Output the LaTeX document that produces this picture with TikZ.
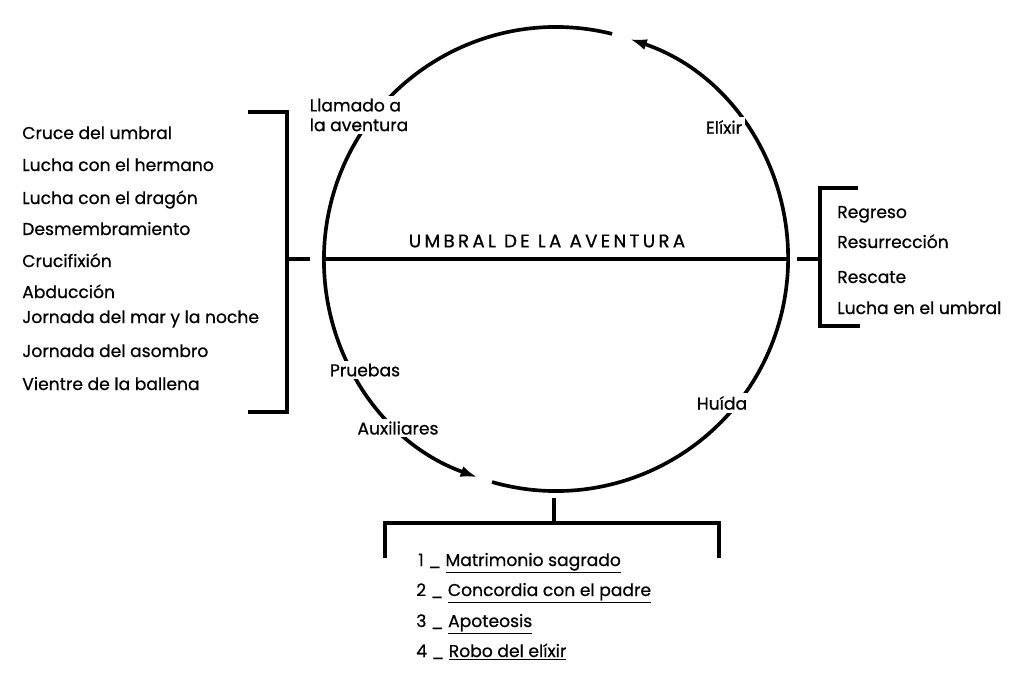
\documentclass[tikz,border=0pt]{standalone}
\usepackage{fontspec}
\setmainfont{Poppins}[UprightFeatures={FakeBold=0.7}]
\usetikzlibrary{positioning,arrows.meta}

\tikzset{
  trazo/.style={line width=2.6pt},
  flecha/.style={trazo,-{Latex[length=12pt,width=8pt]}},
  etiq/.style={fill=white,inner sep=2pt,align=left},
  lista/.style={anchor=base west,inner sep=0pt}
}

\begin{document}
\begin{tikzpicture}[x=0.025cm,y=-0.025cm,font=\fontsize{12.2}{14}\selectfont]
    \useasboundingbox (0,0) rectangle (1024,673);
    \def\R{232}
    \coordinate (O) at (556,259);
    % el circulo: dos arcos, cada uno con su flecha
    \draw [flecha] ([shift={(106:\R)}]O) arc [start angle=106,end angle=-71.4,radius=\R];
    \draw [flecha] ([shift={(-76:\R)}]O) arc [start angle=-76,end angle=-250.2,radius=\R];
    % umbral
    \coordinate (umbral-i) at ([shift={(180:\R)}]O);
    \coordinate (umbral-d) at ([shift={(0:\R)}]O);
    \draw [trazo] (umbral-i) -- (umbral-d);
    \node [font=\fontsize{13}{14}\selectfont\addfontfeatures{LetterSpace=18}] (umbral) at (547,241) {UMBRAL DE LA AVENTURA};
    % etiquetas sobre el circulo
    \node [etiq] (llamado) at (359,115) {Llamado a\\la aventura};
    \node [etiq] (elixir) at (724,127) {Elíxir};
    \node [etiq] (pruebas) at (365,370) {Pruebas};
    \node [etiq] (auxiliares) at (398,428) {Auxiliares};
    \node [etiq] (huida) at (722,403) {Huída};
    % corchete izquierdo
    \coordinate (izq) at (287,259);
    \coordinate (izq-t) at (310,259);
    \draw [trazo] (248,112) -- (287,112) -- (287,412) -- (248,412);
    \draw [trazo] (izq) -- (izq-t);
    \node [lista] (l1) at (22,139) {Cruce del umbral};
    \node [lista] (l2) at (22,171) {Lucha con el hermano};
    \node [lista] (l3) at (22,204) {Lucha con el dragón};
    \node [lista] (l4) at (22,235) {Desmembramiento};
    \node [lista] (l5) at (22,267) {Crucifixión};
    \node [lista] (l6) at (22,298) {Abducción};
    \node [lista] (l7) at (22,323) {Jornada del mar y la noche};
    \node [lista] (l8) at (22,357) {Jornada del asombro};
    \node [lista] (l9) at (22,390) {Vientre de la ballena};
    % corchete derecho
    \coordinate (der) at (820,259);
    \coordinate (der-t) at (797,259);
    \draw [trazo] (858,188) -- (820,188) -- (820,326) -- (860,326);
    \draw [trazo] (der-t) -- (der);
    \node [lista] (r1) at (837,218) {Regreso};
    \node [lista] (r2) at (837,248) {Resurrección};
    \node [lista] (r3) at (837,283) {Rescate};
    \node [lista] (r4) at (837,314) {Lucha en el umbral};
    % corchete de abajo
    \coordinate (abajo) at (554,498);
    \coordinate (abajo-t) at (554,523);
    \draw [trazo] (abajo) -- (abajo-t);
    \draw [trazo] (385,558) -- (385,523) -- (719,523) -- (719,558);
    \node [lista] (b1) at (418,566) {1 \_ \underline{Matrimonio sagrado}};
    \node [lista] (b2) at (416,596) {2 \_ \underline{Concordia con el padre}};
    \node [lista] (b3) at (416,627) {3 \_ \underline{Apoteosis}};
    \node [lista] (b4) at (416,657) {4 \_ \underline{Robo del elíxir}};
\end{tikzpicture}
\end{document}
